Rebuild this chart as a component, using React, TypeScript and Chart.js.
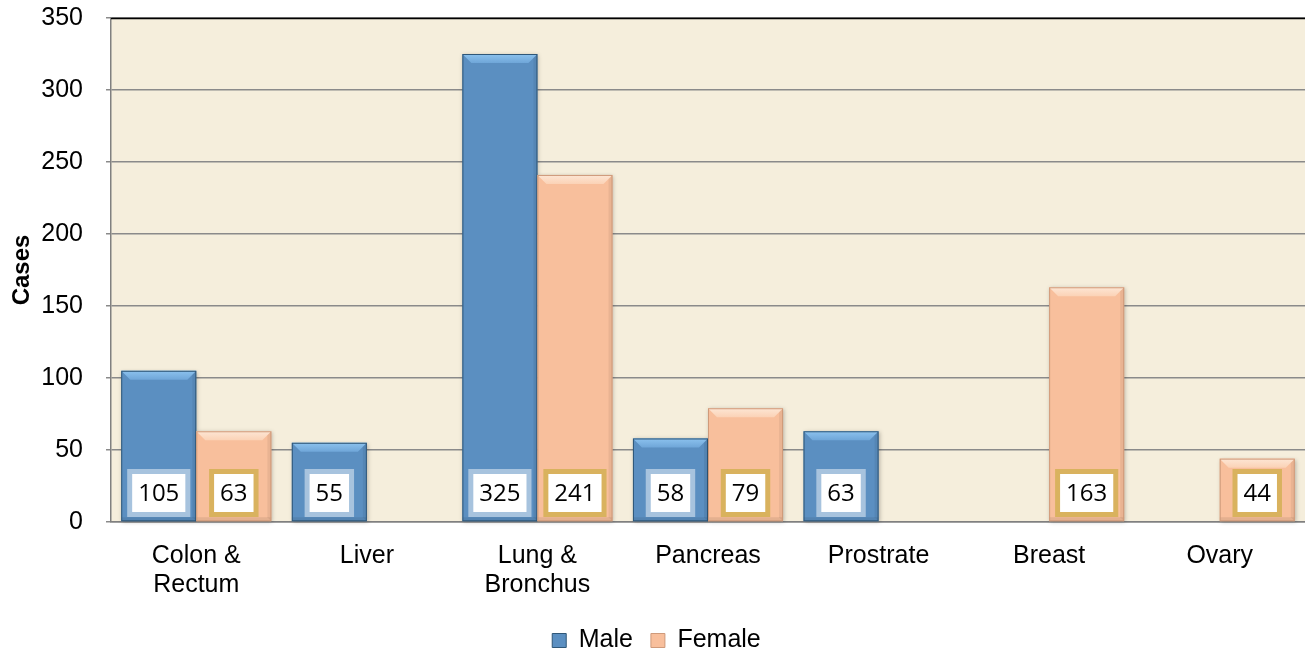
import React, { useEffect, useRef } from "react";
import { Chart, registerables } from "chart.js";

Chart.register(...registerables);

const categories: (string | string[])[] = [
  ["Colon &", "Rectum"],
  "Liver",
  ["Lung &", "Bronchus"],
  "Pancreas",
  "Prostrate",
  "Breast",
  "Ovary",
];
const maleValues: (number | null)[] = [105, 55, 325, 58, 63, null, null];
const femaleValues: (number | null)[] = [63, null, 241, 79, null, 163, 44];
const yTicks = [0, 50, 100, 150, 200, 250, 300, 350];

const MALE = "#5b8fc1";
const FEMALE = "#f8bf9c";
const FONT = "'Liberation Sans', Arial, sans-serif";
const SHIFT = 20;

const bgPlugin = {
  id: "bgPlugin",
  beforeDraw(chart: any) {
    const { ctx, chartArea } = chart;
    ctx.save();
    ctx.fillStyle = "#f5eedc";
    ctx.fillRect(chartArea.left, chartArea.top, chartArea.right - chartArea.left, chartArea.bottom - chartArea.top);
    ctx.restore();
  },
  afterDraw(chart: any) {
    const { ctx, chartArea } = chart;
    ctx.save();
    ctx.strokeStyle = "#000";
    ctx.lineWidth = 1.5;
    ctx.beginPath();
    ctx.moveTo(chartArea.left, chartArea.top + 0.5);
    ctx.lineTo(chartArea.right, chartArea.top + 0.5);
    ctx.stroke();
    ctx.restore();
  },
};

const bevelPlugin = {
  id: "bevelPlugin",
  afterDatasetsDraw(chart: any) {
    const { ctx } = chart;
    chart.data.datasets.forEach((ds: any, di: number) => {
      const meta = chart.getDatasetMeta(di);
      const light = di === 0 ? "#8cc2ee" : "#fde6d4";
      const dark = di === 0 ? "#2f5778" : "#cf9a7a";
      meta.data.forEach((bar: any, i: number) => {
        if (ds.data[i] == null) return;
        const { x, y, base, width } = bar.getProps(["x", "y", "base", "width"], true);
        const l = x - width / 2;
        const r = x + width / 2;
        const b = 9;
        ctx.save();
        ctx.shadowColor = "rgba(0,0,0,0.25)";
        ctx.shadowBlur = 4;
        ctx.shadowOffsetX = 1;
        ctx.shadowOffsetY = 1;
        ctx.fillStyle = di === 0 ? MALE : FEMALE;
        ctx.fillRect(l, y, width, base - y);
        ctx.shadowColor = "transparent";
        const g = ctx.createLinearGradient(0, y, 0, y + b);
        g.addColorStop(0, light);
        g.addColorStop(1, di === 0 ? "#6fa6d8" : "#fbd2b6");
        ctx.fillStyle = g;
        ctx.beginPath();
        ctx.moveTo(l, y);
        ctx.lineTo(r, y);
        ctx.lineTo(r - b, y + b);
        ctx.lineTo(l + b, y + b);
        ctx.closePath();
        ctx.fill();
        ctx.fillStyle = "rgba(0,0,0,0.06)";
        ctx.beginPath();
        ctx.moveTo(r, y);
        ctx.lineTo(r, base);
        ctx.lineTo(r - 4, base - 4);
        ctx.lineTo(r - 4, y + 4);
        ctx.closePath();
        ctx.fill();
        ctx.fillStyle = "rgba(0,0,0,0.08)";
        ctx.fillRect(l, base - 4, width, 4);
        ctx.strokeStyle = dark;
        ctx.lineWidth = 1;
        ctx.strokeRect(l + 0.5, y + 0.5, width - 1, base - y - 1);
        ctx.restore();
      });
    });
  },
};

const labelPlugin = {
  id: "labelPlugin",
  afterDatasetsDraw(chart: any) {
    const { ctx } = chart;
    const yScale = chart.scales.y;
    const cy = yScale.getPixelForValue(0) - 29;
    ctx.save();
    ctx.font = "24px 'Open Sans', 'Noto Sans', sans-serif";
    ctx.textAlign = "center";
    ctx.textBaseline = "middle";
    chart.data.datasets.forEach((ds: any, di: number) => {
      const meta = chart.getDatasetMeta(di);
      meta.data.forEach((bar: any, i: number) => {
        const v = ds.data[i];
        if (v == null) return;
        const x = bar.x;
        const text = String(v);
        const tw = ctx.measureText(text).width;
        const innerW = tw + 12;
        const innerH = 38;
        const bw = 5;
        const ow = innerW + bw * 2;
        const oh = innerH + bw * 2;
        ctx.fillStyle = di === 0 ? "#a7c3de" : "#d9b25e";
        ctx.fillRect(x - ow / 2, cy - oh / 2, ow, oh);
        ctx.fillStyle = "#ffffff";
        ctx.fillRect(x - innerW / 2, cy - innerH / 2, innerW, innerH);
        ctx.fillStyle = "#000";
        ctx.fillText(text, x, cy + 1);
      });
    });
    ctx.restore();
  },
};

export default function App() {
  const ref = useRef<HTMLCanvasElement>(null);
  useEffect(() => {
    document.body.style.margin = "0";
    const chart = new Chart(ref.current!, {
      type: "bar",
      data: {
        labels: categories,
        datasets: [
          {
            label: "Male",
            data: maleValues,
            backgroundColor: "rgba(0,0,0,0)",
            borderWidth: 0,
            categoryPercentage: 0.88,
            barPercentage: 1,
          } as any,
          {
            label: "Female",
            data: femaleValues,
            backgroundColor: "rgba(0,0,0,0)",
            borderWidth: 0,
            categoryPercentage: 0.88,
            barPercentage: 1,
          } as any,
        ],
      },
      options: {
        animation: false,
        responsive: false,
        maintainAspectRatio: false,
        layout: { padding: { left: 8, right: 0, top: -13, bottom: -9 } },
        plugins: {
          legend: {
            position: "bottom",
            labels: {
              boxWidth: 14,
              boxHeight: 14,
              padding: 18,
              color: "#000",
              font: { family: FONT, size: 25 },
              generateLabels: (chart: any) =>
                chart.data.datasets.map((ds: any, i: number) => ({
                  text: ds.label,
                  fillStyle: i === 0 ? MALE : FEMALE,
                  strokeStyle: i === 0 ? "#2f5778" : "#cf9a7a",
                  lineWidth: 1,
                  datasetIndex: i,
                  hidden: false,
                })),
            },
          },
          tooltip: { enabled: false },
        },
        scales: {
          x: {
            grid: { display: false, drawTicks: false },
            border: { display: true, color: "#808080", width: 1.5 },
            afterFit: (axis: any) => {
              axis.height -= 10;
            },
            ticks: {
              color: "#000",
              padding: 20,
              maxRotation: 0,
              autoSkip: false,
              font: { family: FONT, size: 25, lineHeight: 1.16 },
            },
          },
          y: {
            min: 0,
            max: 350,
            afterBuildTicks: (axis: any) => {
              axis.ticks = yTicks.map((v) => ({ value: v }));
            },
            afterFit: (axis: any) => {
              axis.width = 103;
            },
            grid: { color: "#8a8a8a", lineWidth: 1.5, drawTicks: true, tickLength: 5, tickColor: "#8a8a8a" },
            border: { display: true, color: "#808080", width: 1.5 },
            ticks: {
              color: "#000",
              padding: 23,
              font: { family: FONT, size: 25 },
            },
            title: {
              display: true,
              text: "Cases",
              color: "#000",
              padding: { top: 0, bottom: 2 },
              font: { family: FONT, size: 24, weight: "bold" },
            },
          },
        },
      },
      plugins: [bgPlugin, bevelPlugin, labelPlugin],
    });
    return () => chart.destroy();
  }, []);
  return (
    <div style={{ position: "absolute", left: 0, top: 0, width: 1305, height: 654, overflow: "hidden" }}>
      <canvas
        ref={ref}
        width={1305}
        height={654 + SHIFT}
        style={{ position: "absolute", left: 0, top: -SHIFT }}
      />
    </div>
  );
}
